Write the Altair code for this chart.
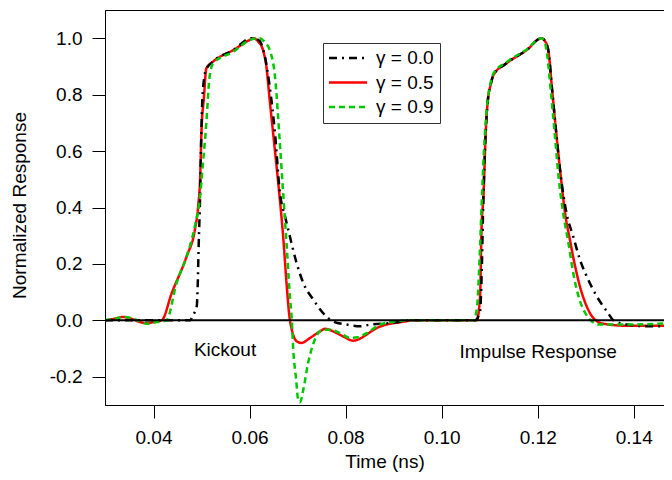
import altair as alt
import pandas as pd

labels = ["γ = 0.0", "γ = 0.5", "γ = 0.9"]
colors = ["#000000", "#ff0000", "#00c800"]
dashes = [[8, 5, 2, 5], [1, 0], [6, 4]]

# gamma = 0.0 (black dash-dot)
t0 = [0.0299, 0.0476, 0.0483, 0.0490, 0.0492, 0.0494, 0.0497, 0.0499, 0.0502, 0.0509,
      0.0524, 0.0566, 0.0604, 0.0613, 0.0622, 0.0632, 0.0642, 0.0653, 0.0663, 0.0674,
      0.0684, 0.0698, 0.0712, 0.0733, 0.0753, 0.0774, 0.0802, 0.0830, 0.0851, 0.0899,
      0.0934, 0.1069, 0.1080, 0.1083, 0.1087, 0.1092, 0.1097, 0.1101, 0.1108, 0.1135,
      0.1177, 0.1208, 0.1215, 0.1222, 0.1230, 0.1238, 0.1247, 0.1260, 0.1274, 0.1288,
      0.1302, 0.1323, 0.1344, 0.1358, 0.1385, 0.1427, 0.1480]
r0 = [0.0, 0.0, 0.02, 0.05, 0.12, 0.262, 0.439, 0.616, 0.793, 0.887,
      0.917, 0.958, 1.0, 0.998, 0.988, 0.935, 0.828, 0.663, 0.455, 0.368,
      0.297, 0.203, 0.132, 0.073, 0.026, -0.004, -0.015, -0.021, -0.015, -0.009,
      0.0, 0.0, 0.032, 0.144, 0.439, 0.675, 0.793, 0.828, 0.870, 0.911,
      0.958, 1.0, 0.99, 0.958, 0.817, 0.675, 0.527, 0.38, 0.297, 0.215,
      0.156, 0.085, 0.032, 0.0, -0.015, -0.021, -0.021]

# gamma = 0.5 (red solid)
t5 = [0.0299, 0.0319, 0.0336, 0.0355, 0.0372, 0.0386, 0.0403, 0.0417, 0.0438, 0.0469,
      0.0486, 0.0493, 0.0497, 0.0500, 0.0505, 0.0510, 0.0524, 0.0566, 0.0604, 0.0608,
      0.0618, 0.0628, 0.0635, 0.0642, 0.0653, 0.0663, 0.0670, 0.0677, 0.0683, 0.0688,
      0.0698, 0.0708, 0.0726, 0.0747, 0.0757, 0.0774, 0.0795, 0.0816, 0.0830, 0.0844,
      0.0865, 0.0885, 0.0913, 0.0944, 0.1073, 0.1080, 0.1083, 0.1087, 0.1092, 0.1097,
      0.1101, 0.1108, 0.1135, 0.1177, 0.1208, 0.1215, 0.1222, 0.1230, 0.1238, 0.1247,
      0.1257, 0.1267, 0.1278, 0.1288, 0.1302, 0.1316, 0.1337, 0.1385, 0.1480]
r5 = [0.0, 0.006, 0.012, 0.005, -0.006, -0.010, -0.005, 0.0, 0.097, 0.227,
      0.32, 0.404, 0.5, 0.675, 0.79, 0.893, 0.917, 0.958, 0.997, 1.0,
      0.988, 0.958, 0.90, 0.78, 0.60, 0.43, 0.297, 0.132, 0.014, -0.033,
      -0.074, -0.080, -0.062, -0.039, -0.030, -0.039, -0.057, -0.072, -0.065, -0.050,
      -0.027, -0.015, -0.007, 0.0, 0.0, 0.085, 0.321, 0.439, 0.675, 0.793,
      0.828, 0.870, 0.911, 0.958, 1.0, 0.99, 0.958, 0.817, 0.675, 0.527,
      0.38, 0.286, 0.191, 0.12, 0.05, 0.008, -0.012, -0.019, -0.019]

# gamma = 0.9 (green dashed)
t9 = [0.0299, 0.0319, 0.0340, 0.0361, 0.0386, 0.0407, 0.0427, 0.0448, 0.0469, 0.0486,
      0.0497, 0.0503, 0.0510, 0.0516, 0.0521, 0.0524, 0.0566, 0.0601, 0.0621, 0.0632,
      0.0642, 0.0653, 0.0663, 0.0670, 0.0677, 0.0683, 0.0688, 0.0691, 0.0697, 0.0701,
      0.0705, 0.0712, 0.0722, 0.0736, 0.0753, 0.0767, 0.0788, 0.0809, 0.0826, 0.0844,
      0.0872, 0.0899, 0.0927, 0.1066, 0.1073, 0.1080, 0.1083, 0.1088, 0.1094, 0.1101,
      0.1108, 0.1135, 0.1177, 0.1208, 0.1215, 0.1219, 0.1228, 0.1236, 0.1244, 0.1253,
      0.1264, 0.1274, 0.1285, 0.1299, 0.1313, 0.1330, 0.1385, 0.1480]
r9 = [0.0, 0.006, 0.012, 0.004, -0.012, -0.006, 0.0, 0.132, 0.227, 0.333,
      0.439, 0.557, 0.699, 0.852, 0.90, 0.911, 0.952, 0.994, 1.0, 0.985,
      0.958, 0.864, 0.63, 0.45, 0.274, 0.109, 0.0, -0.104, -0.21, -0.28,
      -0.29, -0.245, -0.151, -0.068, -0.033, -0.033, -0.045, -0.062, -0.060, -0.045,
      -0.015, -0.005, 0.0, 0.0, 0.038, 0.262, 0.40, 0.60, 0.75, 0.835,
      0.875, 0.915, 0.96, 1.0, 0.985, 0.95, 0.80, 0.65, 0.50, 0.38,
      0.274, 0.168, 0.085, 0.026, -0.004, -0.015, -0.015, -0.009]

x_ticks = [0.04, 0.06, 0.08, 0.10, 0.12, 0.14]
y_ticks = [-0.2, 0.0, 0.2, 0.4, 0.6, 0.8, 1.0]

note_text = ["Kickout", "Impulse Response"]
note_t = [0.0549, 0.1201]
note_r = [-0.128, -0.132]

rows = []
for lab, ts, rs in zip(labels, [t0, t5, t9], [r0, r5, r9]):
    for t, r in zip(ts, rs):
        rows.append({"t": t, "r": r, "g": lab})
df = pd.DataFrame(rows)

FONT = "Liberation Sans"

x_enc = alt.X("t:Q",
              scale=alt.Scale(domain=[0.0299, 0.1463], nice=False, zero=False),
              axis=alt.Axis(values=x_ticks, format=".2f", title="Time (ns)",
                            tickSize=13, labelPadding=10, titlePadding=5, grid=False))
y_enc = alt.Y("r:Q",
              scale=alt.Scale(domain=[-0.3, 1.1], nice=False, zero=False),
              axis=alt.Axis(values=y_ticks,
                            labelExpr="replace(format(datum.value, '.1f'), '\u2212', '-')",
                            title="Normalized Response", titleY=195,
                            tickSize=13, labelPadding=10, titlePadding=20, grid=False))

leg = alt.Legend(orient="none", legendX=218, legendY=33,
                 symbolType="M-4,0L4,0", symbolSize=90.25, symbolStrokeWidth=2.5,
                 symbolOffset=10, labelFont=FONT, labelFontSize=19, labelOffset=18.5,
                 padding=5.5, rowPadding=4.5,
                 strokeColor="#333333", fillColor="white", title=None,
                 labelColor="black")

color = alt.Color("g:N", scale=alt.Scale(domain=labels, range=colors), legend=leg, title=None)
dash = alt.StrokeDash("g:N", scale=alt.Scale(domain=labels, range=dashes), legend=leg, title=None)

base = alt.Chart(df)

def series(lab):
    return base.transform_filter(alt.datum.g == lab).mark_line(
        strokeWidth=2.5, interpolate="monotone", clip=True
    ).encode(x=x_enc, y=y_enc, color=color, strokeDash=dash)

zero = alt.Chart(pd.DataFrame({"r": [0.0]})).mark_rule(color="black", strokeWidth=2).encode(y="r:Q")

notes = alt.Chart(pd.DataFrame({"t": note_t, "r": note_r, "label": note_text})).mark_text(
    font=FONT, fontSize=19, align="center", baseline="alphabetic", color="black"
).encode(x="t:Q", y="r:Q", text="label:N")

chart = alt.layer(
    series(labels[1]), series(labels[0]), series(labels[2]), zero, notes
).properties(
    width=559, height=395,
    autosize=alt.AutoSizeParams(type="none"),
    padding={"left": 97, "top": 2, "right": 0, "bottom": 67},
).configure(font=FONT).configure_axis(
    labelFont=FONT, titleFont=FONT, labelFontSize=19, titleFontSize=19,
    labelColor="black", titleColor="black", titleFontWeight="normal",
    domainColor="black", tickColor="black", domainWidth=1, tickWidth=1,
).configure_view(stroke="black", strokeWidth=1)

chart.save("out.html", embed_options={"renderer": "svg", "actions": False})
